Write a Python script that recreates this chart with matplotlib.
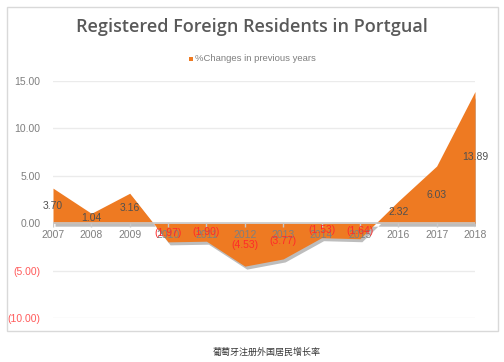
import matplotlib
matplotlib.use("Agg")
import matplotlib.pyplot as plt
import matplotlib.transforms as mtransforms
from matplotlib.patches import Rectangle
import numpy as np

years = ["2007", "2008", "2009", "2010", "2011", "2012", "2013", "2014", "2015", "2016", "2017", "2018"]
changes = [3.70, 1.04, 3.16, -1.97, -1.90, -4.53, -3.77, -1.53, -1.64, 2.32, 6.03, 13.89]
yticks = [-10, -5, 0, 5, 10, 15]

title = "Registered Foreign Residents in Portgual"
legend_label = "%Changes in previous years"
caption = "葡萄牙注册外国居民增长率"

def fmt(v):
    return "({:.2f})".format(abs(v)) if v < 0 else "{:.2f}".format(v)

plt.rcParams['font.family'] = ['Liberation Sans', 'Noto Sans CJK SC', 'DejaVu Sans']

fig = plt.figure(figsize=(5.04, 3.62), dpi=100)
fig.patch.set_facecolor("white")

# chart frame
fig.patches.append(Rectangle((7/504, 1-331/362), (498-7)/504, (331-7)/362,
                             transform=fig.transFigure, fill=False,
                             edgecolor="#d9d9d9", linewidth=1.0))

ax = fig.add_axes([53/504, 1-318/362, 422/504, 237/362])
x = np.arange(len(years))
y = np.array(changes)

ax.set_xlim(0, len(years) - 1)
ax.set_ylim(-10, 15)

# gridlines
for t in yticks:
    if t != 0:
        ax.axhline(t, color="#ebebeb", linewidth=1.0, zorder=0)

# shadow
shadow = mtransforms.offset_copy(ax.transData, fig=fig, x=2, y=-3, units="dots")
ax.fill_between(x, y, 0, color="#6e6e6e", alpha=0.45, linewidth=0, transform=shadow, zorder=1)
ax.fill_between(x, y, 0, color="#EE7A22", linewidth=0, zorder=2)

# zero axis line
ax.axhline(0, color="#c8c8c8", linewidth=1.2, zorder=3)
ax.vlines(x, -0.35, 0, color="#c8c8c8", linewidth=1.0, zorder=3)

# x labels
for xi, lab in zip(x, years):
    ax.annotate(lab, (xi, 0), xytext=(0, -5), textcoords="offset points",
                ha="center", va="top", fontsize=7.5, color="#7f7f7f", zorder=4)

# data labels
for xi, v in zip(x, y):
    ax.text(xi, v / 2, fmt(v), ha="center", va="center", fontsize=7.5,
            color="#ff2a2a" if v < 0 else "#505050", zorder=5)

ax.set_xticks([])
ax.set_yticks(yticks)
ax.set_yticklabels([fmt(t) for t in yticks])
for lab, t in zip(ax.get_yticklabels(), yticks):
    lab.set_color("#ff5a5a" if t < 0 else "#7f7f7f")
    lab.set_fontsize(7.5)
ax.tick_params(axis="y", length=0, pad=9)
for s in ax.spines.values():
    s.set_visible(False)
ax.set_facecolor("none")

fig.text(252/504, 1-27/362, title, ha="center", va="center", fontsize=13,
         color="#595959", fontweight="semibold", family=['Open Sans', 'DejaVu Sans'])

# legend
fig.patches.append(Rectangle((189/504, 1-60.5/362), 4/504, 4/362, transform=fig.transFigure,
                             facecolor="#EE7A22", edgecolor="none"))
fig.text(195/504, 1-58.5/362, legend_label, ha="left", va="center", fontsize=6.8, color="#7f7f7f")

fig.text(267/504, 1-352/362, caption, ha="center", va="center", fontsize=6.5,
         color="#333333", family=['Noto Sans CJK SC', 'DejaVu Sans'])

fig.savefig("out.png", dpi=100, facecolor="white")
